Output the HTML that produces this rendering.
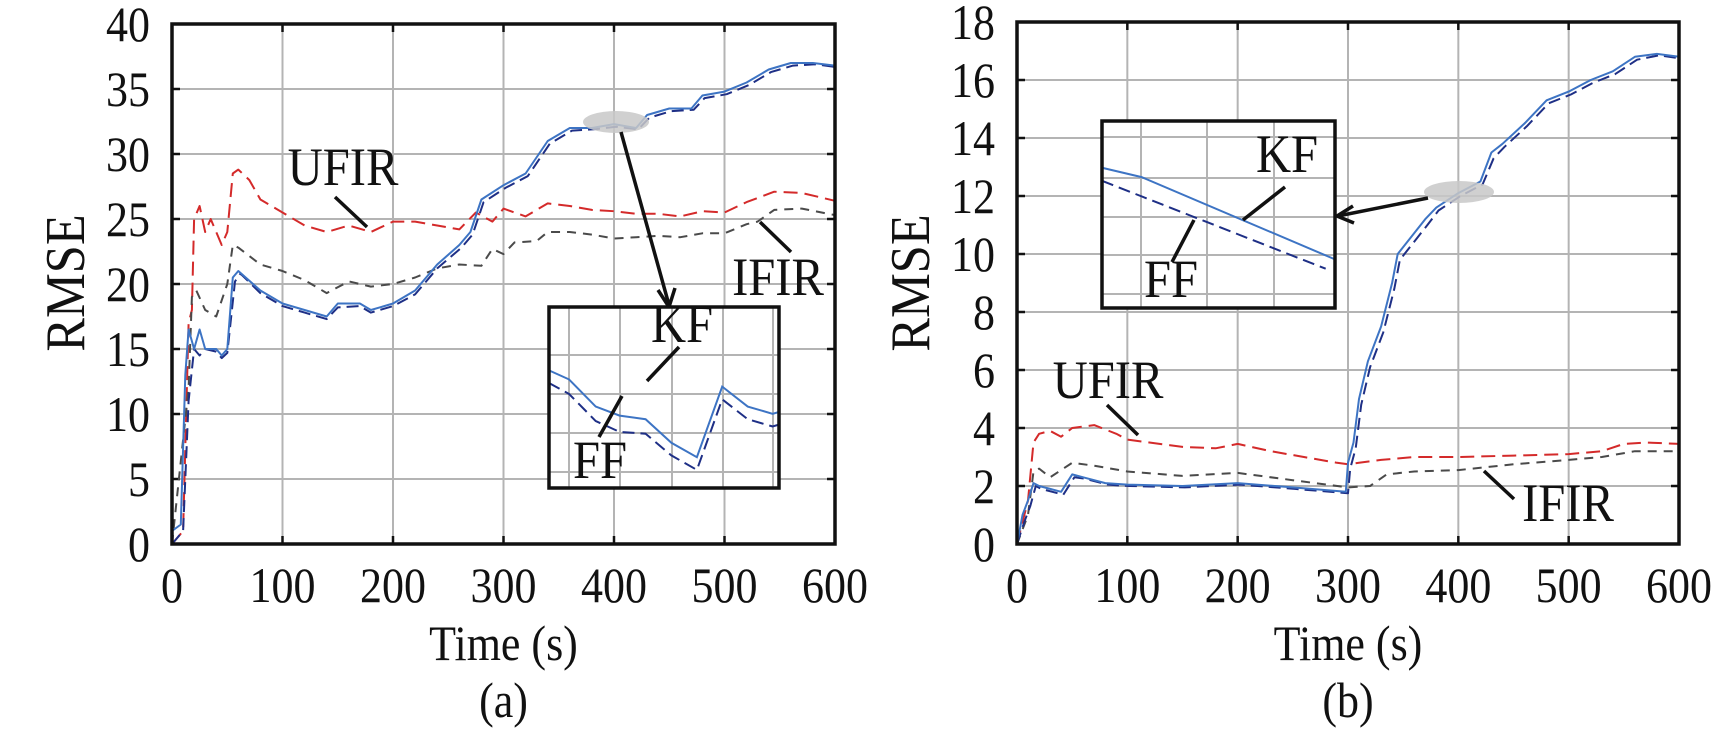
<!DOCTYPE html>
<html><head><meta charset="utf-8"><style>
html,body{margin:0;padding:0;background:#fff;width:1732px;height:732px;overflow:hidden}
svg{display:block}
text{font-family:"Liberation Serif","DejaVu Serif",serif;fill:#111}
</style></head><body>
<svg id="fig" width="1732" height="732" viewBox="0 0 1732 732" xmlns="http://www.w3.org/2000/svg"></svg>
<script>
// ---- Data: panel (a) ----
const aKF_t  = [0,8,12,15,20,25,30,40,45,50,55,60,80,100,120,140,150,170,180,200,220,240,260,270,280,300,320,340,360,380,400,420,430,450,470,480,500,520,540,560,580,600];
const aKF_v  = [1,1.5,13,16.5,15,16.5,15,15,14.5,15,20.5,21,19.5,18.5,18,17.5,18.5,18.5,18,18.5,19.5,21.5,23,24,26.5,27.6,28.5,31,32,32,32.3,32,33,33.5,33.5,34.5,34.8,35.5,36.5,37,37,36.8];
const aFF_t  = [0,10,15,20,25,30,40,45,50,57,62,80,100,120,140,150,170,180,200,220,240,262,272,282,302,322,342,362,382,402,422,432,452,472,482,502,522,542,562,582,600];
const aFF_v  = [0,1,11,15,14.5,15,14.8,14.3,14.7,20.2,20.8,19.3,18.3,17.8,17.3,18.2,18.3,17.8,18.3,19.2,21.2,22.8,23.8,26.3,27.4,28.3,30.8,31.8,31.9,32.1,31.9,32.8,33.3,33.4,34.3,34.6,35.3,36.3,36.8,36.9,36.7];
const aUF_t  = [0,10,15,18,20,25,30,35,40,45,50,55,60,70,80,100,120,140,160,180,200,220,240,260,275,290,300,320,340,360,380,400,420,440,460,480,500,520,545,570,600];
const aUF_v  = [0,1,17,18,25,26,24,25,24,23,24,28.5,28.8,28,26.5,25.5,24.5,24,24.5,24,24.8,24.8,24.5,24.2,25.5,24.8,25.8,25.2,26.2,26,25.7,25.6,25.4,25.4,25.2,25.6,25.5,26.3,27.1,27,26.4];
const aIF_t  = [0,15,18,22,30,40,50,55,60,80,100,120,140,160,180,200,220,240,260,280,290,300,310,330,340,360,380,400,420,440,460,480,500,520,530,545,570,600];
const aIF_v  = [0,12,19,19.5,18,17.5,20,23,22.8,21.5,21,20.3,19.3,20.2,19.8,20,20.5,21.2,21.5,21.4,22.7,22.3,23.2,23.3,24,24,23.8,23.5,23.6,23.7,23.6,23.9,23.9,24.6,24.8,25.7,25.8,25.3];
const aYTicks = [0,5,10,15,20,25,30,35,40];
const xTicks  = [0,100,200,300,400,500,600];
// ---- Data: panel (b) ----
const bKF_t  = [0,5,10,15,20,30,40,50,60,80,100,150,200,250,298,300,305,310,318,330,340,345,370,380,400,420,430,440,460,480,500,520,540,560,580,600];
const bKF_v  = [0,1,1.5,2.1,2.0,1.9,1.8,2.4,2.3,2.1,2.05,2.0,2.1,1.95,1.8,2.8,3.5,5,6.3,7.5,9,10,11.2,11.6,12.1,12.5,13.5,13.8,14.5,15.3,15.6,16,16.3,16.8,16.9,16.8];
const bFF_t  = [0,7,12,17,22,32,42,52,62,82,102,152,202,252,300,302,307,312,320,332,342,347,372,382,402,422,432,442,462,482,502,522,542,562,582,600];
const bFF_v  = [0,0.8,1.3,2.0,1.9,1.8,1.7,2.3,2.25,2.05,2.0,1.95,2.05,1.9,1.75,2.6,3.3,4.8,6.1,7.3,8.8,9.8,11.0,11.5,12.0,12.4,13.3,13.7,14.4,15.2,15.5,15.9,16.2,16.7,16.85,16.75];
const bUF_t  = [0,10,15,20,30,40,50,70,90,100,120,150,180,200,230,260,290,300,310,330,360,400,450,500,530,550,570,600];
const bUF_v  = [0,1.5,3.5,3.8,3.9,3.7,4,4.1,3.8,3.6,3.5,3.35,3.3,3.45,3.2,3.0,2.8,2.75,2.8,2.9,3.0,3.0,3.05,3.1,3.2,3.45,3.5,3.45];
const bIF_t  = [0,10,15,20,30,50,70,100,150,200,250,300,320,335,360,400,450,500,530,560,600];
const bIF_v  = [0,1,2.5,2.6,2.3,2.8,2.7,2.5,2.35,2.45,2.2,1.95,2.0,2.4,2.5,2.55,2.75,2.9,3.0,3.2,3.2];
const bYTicks = [0,2,4,6,8,10,12,14,16,18];
// inset samples
const aInsKF = [0.65,0.6,0.45,0.4,0.38,0.25,0.17,0.56,0.45,0.41,0.42];
const aInsFF = [0.58,0.52,0.37,0.31,0.3,0.18,0.1,0.49,0.38,0.34,0.35];
const bInsKF = [0.75,0.7,0.26];
const bInsFF = [0.68,0.21];

const NS="http://www.w3.org/2000/svg";
const FONT='Liberation Serif, DejaVu Serif, serif';
const svg=document.getElementById('fig');
function mk(tag,attrs,parent,name,inter){
  const e=document.createElementNS(NS,tag);
  for(const k in attrs) e.setAttribute(k,attrs[k]);
  
  
  (parent||svg).appendChild(e);return e;
}
function txt(x,y,s,size,anchor,name,sx){
  const k=sx||0.9;
  const t=mk('text',{x:0,y:0,'font-size':size,'font-family':FONT,'text-anchor':anchor||'middle',transform:`translate(${x},${y}) scale(${k},1)`},svg,name,false);
  t.textContent=s;return t;
}
function panel(P){
  const X=t=>P.x0+(t-0)*(P.x1-P.x0)/600;
  const Y=v=>P.y0-(v)*(P.y0-P.y1)/P.ymax;
  const g=mk('g',{},svg,P.name,false);
  xTicks.forEach(t=>{ if(t>0&&t<600) mk('line',{x1:X(t),x2:X(t),y1:P.y1,y2:P.y0,stroke:'#b4b4b4','stroke-width':2},g,'x-grid-line',false);});
  P.yt.forEach(v=>{ if(v>0&&v<P.ymax) mk('line',{x1:P.x0,x2:P.x1,y1:Y(v),y2:Y(v),stroke:'#b4b4b4','stroke-width':2},g,'y-grid-line',false);});
  xTicks.forEach(t=>{ mk('line',{x1:X(t),x2:X(t),y1:P.y0,y2:P.y0-8,stroke:'#111','stroke-width':2.5},g,'x-tick',false);
    mk('line',{x1:X(t),x2:X(t),y1:P.y1,y2:P.y1+8,stroke:'#111','stroke-width':2.5},g,'x-tick',false);
    txt(X(t),602,String(t),50,'middle','x-tick-label',0.88);});
  P.yt.forEach(v=>{ mk('line',{x1:P.x0,x2:P.x0+8,y1:Y(v),y2:Y(v),stroke:'#111','stroke-width':2.5},g,'y-tick',false);
    mk('line',{x1:P.x1,x2:P.x1-8,y1:Y(v),y2:Y(v),stroke:'#111','stroke-width':2.5},g,'y-tick',false);
    txt(P.x0-22,Y(v)+17,String(v),50,'end','y-tick-label',0.88);});
  function series(ts,vs,color,dash,w,name){
    let d='';ts.forEach((t,i)=>{d+=(i?'L':'M')+X(t).toFixed(1)+' '+Y(vs[i]).toFixed(1);});
    mk('path',{d:d,fill:'none',stroke:color,'stroke-width':w,'stroke-dasharray':dash||'none','stroke-linejoin':'round'},g,name,false);
  }
  series(P.uf[0],P.uf[1],'#d42a2a','14 7',2,'ufir-line');
  series(P.ifr[0],P.ifr[1],'#4a4a4a','9 7',2,'ifir-line');
  series(P.ff[0],P.ff[1],'#1e2f86','12 6',2,'ff-line');
  series(P.kf[0],P.kf[1],'#3d74c4',null,2,'kf-line');
  mk('rect',{x:P.x0,y:P.y1,width:P.x1-P.x0,height:P.y0-P.y1,fill:'none',stroke:'#111','stroke-width':3.5},g,'plot-frame',false);
  txt((P.x0+P.x1)/2,660,'Time (s)',50,'middle','x-axis-title',0.88);
  txt((P.x0+P.x1)/2,717,P.cap,50,'middle','panel-caption',0.88);
  const ry=mk('text',{x:0,y:0,'font-size':56,'font-family':FONT,'text-anchor':'middle',transform:`translate(${P.x0-106+18},${283}) rotate(-90) scale(0.9,1)`},svg,'y-axis-title',false);
  ry.textContent='RMSE';
}
function inset(b,kf,ff,vgrid,hgrid,kfx,ffx,name){
  const g=mk('g',{},svg,name,false);
  mk('rect',{x:b.x,y:b.y,width:b.w,height:b.h,fill:'#fff',stroke:'none'},g,'inset-bg',false);
  vgrid.forEach(x=>mk('line',{x1:x,x2:x,y1:b.y,y2:b.y+b.h,stroke:'#b4b4b4','stroke-width':2},g,'inset-grid',false));
  hgrid.forEach(y=>mk('line',{x1:b.x,x2:b.x+b.w,y1:y,y2:y,stroke:'#b4b4b4','stroke-width':2},g,'inset-grid',false));
  const IX=f=>b.x+f*b.w, IY=f=>b.y+b.h*(1-f);
  let d='';kf.forEach((v,i)=>{d+=(i?'L':'M')+IX(kfx[i])+' '+IY(v);});
  mk('path',{d:d,fill:'none',stroke:'#3d74c4','stroke-width':2},g,'inset-kf-line',false);
  d='';ff.forEach((v,i)=>{d+=(i?'L':'M')+IX(ffx[i])+' '+IY(v);});
  mk('path',{d:d,fill:'none',stroke:'#1e2f86','stroke-width':2,'stroke-dasharray':'12 6'},g,'inset-ff-line',false);
  mk('rect',{x:b.x,y:b.y,width:b.w,height:b.h,fill:'none',stroke:'#111','stroke-width':3.5},g,'inset-frame',false);
}
function seg(x1,y1,x2,y2,name,w){mk('line',{x1,y1,x2,y2,stroke:'#111','stroke-width':w||3.5},svg,name,false);}

panel({name:'panel-a',x0:172,x1:835,y0:544,y1:24,ymax:40,yt:aYTicks,cap:'(a)',
  kf:[aKF_t,aKF_v],ff:[aFF_t,aFF_v],uf:[aUF_t,aUF_v],ifr:[aIF_t,aIF_v]});
panel({name:'panel-b',x0:1017,x1:1679,y0:544,y1:22,ymax:18,yt:bYTicks,cap:'(b)',
  kf:[bKF_t,bKF_v],ff:[bFF_t,bFF_v],uf:[bUF_t,bUF_v],ifr:[bIF_t,bIF_v]});

mk('ellipse',{cx:616,cy:122,rx:33,ry:11,fill:'#c8c8c8','fill-opacity':0.85},svg,'zoom-region-a',false);
seg(621,132,669,305,'zoom-arrow-a');
mk('path',{d:'M658 290 L669 307 L675 288',fill:'none',stroke:'#111','stroke-width':3.5},svg,'zoom-arrowhead-a',false);
const fx11=[0,0.087,0.203,0.307,0.42,0.532,0.643,0.753,0.864,0.972,1];
inset({x:549,y:307,w:230,h:181},aInsKF,aInsFF,[569,620,672,723,773],[355,394,433,472],fx11,fx11,'inset-a');
txt(682,342,'KF',54,'middle','kf-label-a'); seg(679,347,647,381,'kf-pointer-a');
txt(600,478,'FF',54,'middle','ff-label-a'); seg(622,396,599,437,'ff-pointer-a');
txt(343,185,'UFIR',54,'middle','ufir-label-a'); seg(335,197,367,227,'ufir-pointer-a');
txt(778,295,'IFIR',54,'middle','ifir-label-a'); seg(760,222,791,252,'ifir-pointer-a');

mk('ellipse',{cx:1459,cy:192,rx:35,ry:11,fill:'#c8c8c8','fill-opacity':0.85},svg,'zoom-region-b',false);
seg(1428,198,1338,216,'zoom-arrow-b');
mk('path',{d:'M1353 206 L1337 216 L1354 223',fill:'none',stroke:'#111','stroke-width':3.5},svg,'zoom-arrowhead-b',false);
inset({x:1102,y:121,w:233,h:187},bInsKF,bInsFF,[1141,1207,1274],[137,178,217,255,294],[0,0.17,1],[0,0.96],'inset-b');
txt(1287,172,'KF',54,'middle','kf-label-b'); seg(1285,187,1243,220,'kf-pointer-b');
txt(1171,297,'FF',54,'middle','ff-label-b'); seg(1194,220,1172,262,'ff-pointer-b');
txt(1108,398,'UFIR',54,'middle','ufir-label-b'); seg(1107,405,1138,435,'ufir-pointer-b');
txt(1568,521,'IFIR',54,'middle','ifir-label-b'); seg(1484,471,1514,499,'ifir-pointer-b');
</script>
</body></html>
